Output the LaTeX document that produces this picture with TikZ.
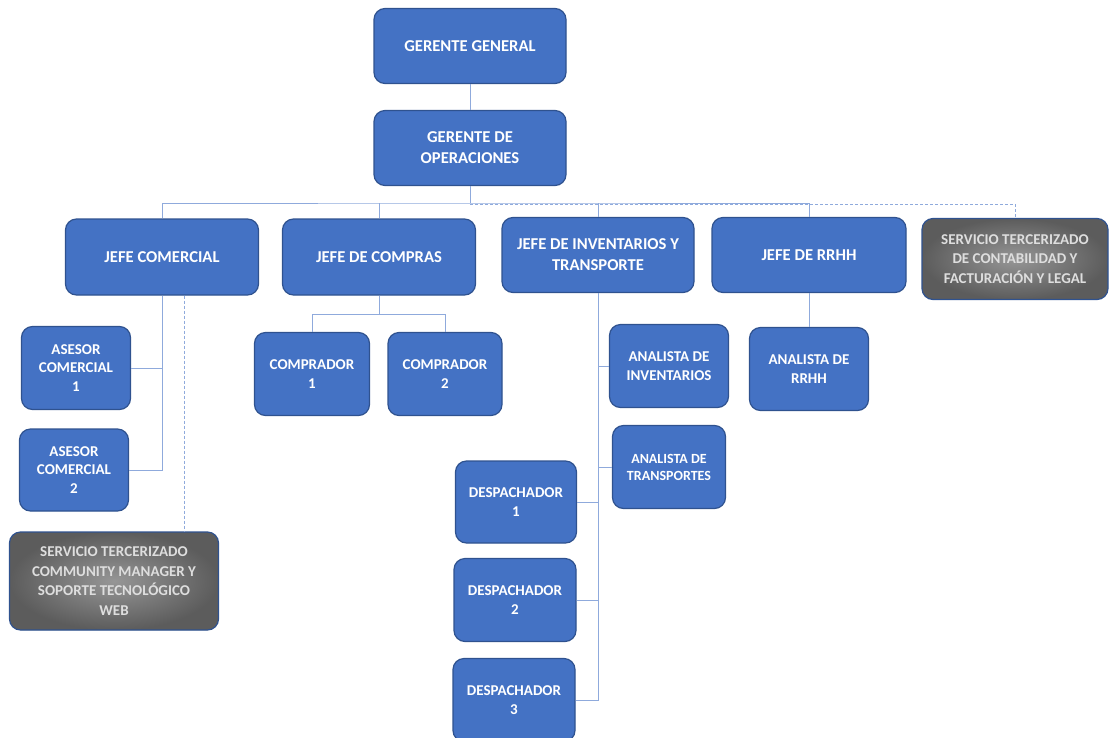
\documentclass[tikz,border=0pt]{standalone}
\usepackage{fontspec}
\setmainfont{Carlito}
\usetikzlibrary{calc}
\definecolor{orgblue}{RGB}{68,114,196}
\definecolor{orgedge}{RGB}{47,82,143}
\definecolor{orgline}{RGB}{143,170,220}
\definecolor{srvdark}{RGB}{92,92,92}
\definecolor{srvlight}{RGB}{150,150,150}
\definecolor{srvtext}{RGB}{222,222,222}

\begin{document}
\begin{tikzpicture}[
      x=1pt,y=-1pt,
      nd/.style={draw=orgedge,line width=1.2pt,rounded corners=11pt,fill=orgblue,text=white,align=center,inner sep=2pt,font=\bfseries\fontsize{15}{18.5}\selectfont},
      big/.style={nd,font=\bfseries\fontsize{16.6}{21}\selectfont},
      srv/.style={nd,inner color=srvlight,outer color=srvdark,text=srvtext,font=\bfseries\fontsize{15}{19.5}\selectfont},
      ln/.style={draw=orgline,line width=1pt},
      dsh/.style={ln,dashed,dash pattern=on 3pt off 2pt}
    ]
    \useasboundingbox (0,0) rectangle (1109,737);
    % direccion
    \node[big,minimum width=192pt,minimum height=75pt] (gg) at (470,46) {GERENTE GENERAL};
    \node[big,minimum width=192pt,minimum height=75pt] (go) at (470,148) {GERENTE DE\\OPERACIONES};
    % jefaturas
    \node[big,minimum width=193pt,minimum height=76pt] (jc) at (162,257) {JEFE COMERCIAL};
    \node[big,minimum width=193pt,minimum height=76pt] (jcp) at (379,257) {JEFE DE COMPRAS};
    \node[big,minimum width=192pt,minimum height=75pt] (jit) at (598,255) {JEFE DE INVENTARIOS Y\\TRANSPORTE};
    \node[big,minimum width=194pt,minimum height=75pt] (jrh) at (809,255) {JEFE DE RRHH};
    \node[srv,minimum width=186pt,minimum height=81pt] (stc) at (1015,259) {SERVICIO TERCERIZADO\\DE CONTABILIDAD Y\\FACTURACIÓN Y LEGAL};
    % area comercial
    \node[nd,minimum width=109pt,minimum height=83pt] (ac1) at (76,368) {ASESOR\\COMERCIAL\\1};
    \node[nd,minimum width=109pt,minimum height=82pt] (ac2) at (74,470) {ASESOR\\COMERCIAL\\2};
    \node[srv,minimum width=209pt,minimum height=98pt] (scm) at (114,581) {SERVICIO TERCERIZADO\\COMMUNITY MANAGER Y\\SOPORTE TECNOLÓGICO\\WEB};
    % compras
    \node[nd,minimum width=115pt,minimum height=83pt] (cp1) at (312,374) {COMPRADOR\\1};
    \node[nd,minimum width=114pt,minimum height=83pt] (cp2) at (445,374) {COMPRADOR\\2};
    % inventarios y transporte
    \node[nd,minimum width=119pt,minimum height=83pt] (ai) at (669,366) {ANALISTA DE\\INVENTARIOS};
    \node[nd,minimum width=113pt,minimum height=83pt,font=\bfseries\fontsize{14}{17}\selectfont] (at) at (669,467) {ANALISTA DE\\TRANSPORTES};
    \node[nd,minimum width=121pt,minimum height=82pt] (d1) at (516,502) {DESPACHADOR\\1};
    \node[nd,minimum width=122pt,minimum height=83pt] (d2) at (515,600) {DESPACHADOR\\2};
    \node[nd,minimum width=122pt,minimum height=83pt] (d3) at (514,700) {DESPACHADOR\\3};
    % rrhh
    \node[nd,minimum width=119pt,minimum height=83pt] (arh) at (809,369) {ANALISTA DE\\RRHH};

    % conectores
    \coordinate (bus) at (470,203);
    \draw[ln] (gg) -- (go);
    \draw[ln] (go) -- (bus);
    \draw[ln] (jc.north) |- (bus) -| (jrh.north);
    \draw[ln] (jcp.north) -- (jcp.north |- bus);
    \draw[ln] (jit.north) -- (jit.north |- bus);
    \draw[dsh] ([yshift=-1pt]bus) -| (stc.north);

    \draw[ln] (jc.south) |- (ac2.east);
    \draw[ln] (ac1.east) -- (ac1.east -| jc.south);
    \coordinate (jcd) at ([xshift=22pt]jc.south);
    \draw[dsh] (jcd) -- (jcd |- scm.north);

    \draw[ln] (jcp.south) -- ++(0,19) coordinate (cb);
    \draw[ln] (cp1.north) |- (cb) -| (cp2.north);

    \draw[ln] (jit.south) |- (d3.east);
    \draw[ln] (ai.west) -- (ai.west -| jit.south);
    \draw[ln] (at.west) -- (at.west -| jit.south);
    \draw[ln] (d1.east) -- (d1.east -| jit.south);
    \draw[ln] (d2.east) -- (d2.east -| jit.south);

    \draw[ln] (jrh) -- (arh);
  \end{tikzpicture}
\end{document}
